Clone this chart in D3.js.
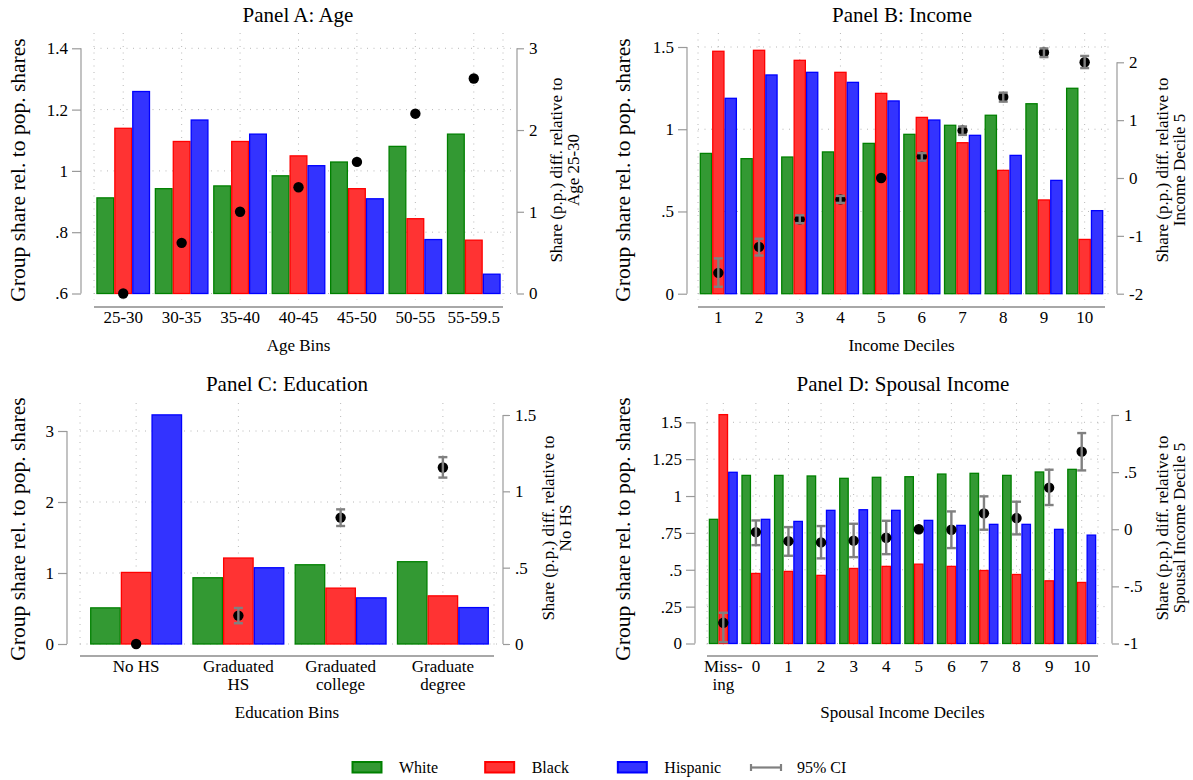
<!DOCTYPE html>
<html><head><meta charset="utf-8">
<script src="https://cdn.jsdelivr.net/npm/d3@7"></script>
<style>
body{margin:0;background:#fff;}
svg text{font-family:"Liberation Serif","Times New Roman",serif;fill:#000;}
</style></head><body>
<svg id="chart" width="1193" height="780"></svg>
<script>
// ---------------- DATA ----------------
const seriesNames = ["White", "Black", "Hispanic"];

// Panel A: Age
const ageCats = ["25-30", "30-35", "35-40", "40-45", "45-50", "50-55", "55-59.5"];
const ageWhite = [0.912, 0.942, 0.951, 0.984, 1.029, 1.080, 1.120];
const ageBlack = [1.139, 1.096, 1.096, 1.049, 0.942, 0.844, 0.774];
const ageHispanic = [1.259, 1.166, 1.120, 1.017, 0.909, 0.776, 0.663];
const ageDiff = [0, 0.62, 1.00, 1.30, 1.61, 2.20, 2.63];
const ageLo = [null, null, null, null, null, null, null];
const ageHi = [null, null, null, null, null, null, null];
const ageLeftTicks = [0.6, 0.8, 1, 1.2, 1.4];
const ageLeftLabels = [".6", ".8", "1", "1.2", "1.4"];
const ageRightTicks = [0, 1, 2, 3];
const ageRightLabels = ["0", "1", "2", "3"];

// Panel B: Income
const incCats = ["1", "2", "3", "4", "5", "6", "7", "8", "9", "10"];
const incWhite = [0.853, 0.821, 0.831, 0.862, 0.914, 0.969, 1.024, 1.085, 1.155, 1.249];
const incBlack = [1.474, 1.480, 1.419, 1.346, 1.218, 1.072, 0.918, 0.750, 0.570, 0.330];
const incHispanic = [1.188, 1.330, 1.346, 1.285, 1.172, 1.056, 0.963, 0.841, 0.689, 0.505];
const incDiff = [-1.64, -1.19, -0.715, -0.37, 0, 0.37, 0.82, 1.40, 2.17, 2.00];
const incLo = [-1.88, -1.34, -0.78, -0.43, null, 0.30, 0.745, 1.32, 2.09, 1.90];
const incHi = [-1.39, -1.05, -0.645, -0.31, null, 0.43, 0.89, 1.475, 2.24, 2.11];
const incLeftTicks = [0, 0.5, 1, 1.5];
const incLeftLabels = ["0", ".5", "1", "1.5"];
const incRightTicks = [-2, -1, 0, 1, 2];
const incRightLabels = ["-2", "-1", "0", "1", "2"];

// Panel C: Education
const eduCats = ["No HS", "Graduated HS", "Graduated college", "Graduate degree"];
const eduLabels = [["No HS"], ["Graduated", "HS"], ["Graduated", "college"], ["Graduate", "degree"]];
const eduWhite = [0.509, 0.933, 1.116, 1.159];
const eduBlack = [1.008, 1.211, 0.787, 0.678];
const eduHispanic = [3.227, 1.074, 0.650, 0.513];
const eduDiff = [0, 0.186, 0.828, 1.156];
const eduLo = [null, 0.136, 0.773, 1.090];
const eduHi = [null, 0.236, 0.882, 1.224];
const eduLeftTicks = [0, 1, 2, 3];
const eduLeftLabels = ["0", "1", "2", "3"];
const eduRightTicks = [0, 0.5, 1, 1.5];
const eduRightLabels = ["0", ".5", "1", "1.5"];

// Panel D: Spousal income
const spCats = ["Missing", "0", "1", "2", "3", "4", "5", "6", "7", "8", "9", "10"];
const spLabels = [["Miss-", "ing"], ["0"], ["1"], ["2"], ["3"], ["4"], ["5"], ["6"], ["7"], ["8"], ["9"], ["10"]];
const spWhite = [0.842, 1.140, 1.140, 1.136, 1.120, 1.127, 1.131, 1.149, 1.154, 1.140, 1.163, 1.181];
const spBlack = [1.552, 0.475, 0.489, 0.462, 0.509, 0.523, 0.538, 0.523, 0.495, 0.468, 0.425, 0.414];
const spHispanic = [1.161, 0.842, 0.828, 0.903, 0.907, 0.903, 0.835, 0.801, 0.808, 0.808, 0.774, 0.735];
const spDiff = [-0.819, -0.025, -0.104, -0.115, -0.100, -0.074, 0, -0.004, 0.139, 0.098, 0.364, 0.679];
const spLo = [-0.988, -0.139, -0.232, -0.255, -0.244, -0.218, null, -0.165, -0.004, -0.045, 0.212, 0.515];
const spHi = [-0.731, 0.077, 0.019, 0.028, 0.048, 0.074, null, 0.156, 0.288, 0.241, 0.521, 0.842];
const spLeftTicks = [0, 0.25, 0.5, 0.75, 1, 1.25, 1.5];
const spLeftLabels = ["0", ".25", ".5", ".75", "1", "1.25", "1.5"];
const spRightTicks = [-1, -0.5, 0, 0.5, 1];
const spRightLabels = ["-1", "-.5", "0", ".5", "1"];

const legendLabels = ["White", "Black", "Hispanic", "95% CI"];

// ---------------- STYLE ----------------
const fills = ["#339933", "#ff3333", "#3333ff"];
const strokes = ["#008000", "#ff0000", "#0000ff"];
const axisColor = "#9a9a9a";
const gridColor = "#b8b8b8";
const ciColor = "#808080";

const svg = d3.select("#chart");

function drawPanel(c) {
  const g = svg.append("g");
  const x = d3.scaleBand().domain(c.cats).range(c.band).paddingInner(c.pad).paddingOuter(c.pad / 2);
  const xs = d3.scaleBand().domain(seriesNames).range([0, x.bandwidth()]);
  const yL = d3.scaleLinear().domain(c.yLDomain).range(c.yLRange);
  const yR = d3.scaleLinear().domain(c.yRDomain).range(c.yRRange);
  const cx = k => x(k) + x.bandwidth() / 2;
  const grid = s => s.attr("stroke", gridColor).attr("stroke-width", 1).attr("stroke-dasharray", "1 5.5").attr("fill", "none");

  // vertical grid (plot edges + category centres)
  const vx = [c.plotX[0]].concat(c.cats.map(cx)).concat([c.plotX[1]]);
  g.append("g").selectAll("line").data(vx).join("line")
    .attr("x1", d => d).attr("x2", d => d)
    .attr("y1", c.plotY[0]).attr("y2", c.plotY[1]).call(grid);
  // horizontal grid at left ticks
  g.append("g").selectAll("line").data(c.yLTicks).join("line")
    .attr("x1", c.plotX[0]).attr("x2", c.axR - 3)
    .attr("y1", d => yL(d)).attr("y2", d => yL(d)).call(grid);

  // bars
  const base = yL(c.yLDomain[0]);
  c.series.forEach((vals, si) => {
    g.append("g").selectAll("rect").data(vals).join("rect")
      .attr("x", (d, i) => x(c.cats[i]) + xs(seriesNames[si]) + 0.6)
      .attr("y", d => yL(d))
      .attr("width", xs.bandwidth() - 1.2)
      .attr("height", d => base - yL(d))
      .attr("fill", fills[si]).attr("stroke", strokes[si]).attr("stroke-width", 1.3);
  });

  // dots
  g.append("g").selectAll("circle").data(c.diff).join("circle")
    .attr("cx", (d, i) => cx(c.cats[i])).attr("cy", d => yR(d)).attr("r", 5.2).attr("fill", "#000");
  // confidence intervals (drawn over the dots, as in the original)
  const ci = g.append("g").attr("stroke", ciColor).attr("stroke-width", 2.4).attr("fill", "none");
  c.diff.forEach((d, i) => {
    if (c.lo[i] == null) return;
    const xx = cx(c.cats[i]);
    ci.append("line").attr("x1", xx).attr("x2", xx).attr("y1", yR(c.lo[i])).attr("y2", yR(c.hi[i]));
    ci.append("line").attr("x1", xx - 4.5).attr("x2", xx + 4.5).attr("y1", yR(c.lo[i])).attr("y2", yR(c.lo[i]));
    ci.append("line").attr("x1", xx - 4.5).attr("x2", xx + 4.5).attr("y1", yR(c.hi[i])).attr("y2", yR(c.hi[i]));
  });

  // left axis
  const aL = g.append("g").attr("transform", `translate(${c.axL},0)`)
    .call(d3.axisLeft(yL).tickValues(c.yLTicks).tickFormat(d => c.yLLabels[c.yLTicks.indexOf(d)]).tickSize(9).tickPadding(4));
  aL.select(".domain").remove();
  aL.append("line").attr("x1", 0).attr("x2", 0)
    .attr("y1", yL(d3.min(c.yLTicks))).attr("y2", yL(d3.max(c.yLTicks)));
  aL.selectAll("line").attr("stroke", axisColor).attr("stroke-width", 1.2);
  aL.selectAll("text").attr("font-size", 17).attr("font-family", null).attr("fill", "#000");

  // right axis
  const aR = g.append("g").attr("transform", `translate(${c.axR},0)`)
    .call(d3.axisRight(yR).tickValues(c.yRTicks).tickFormat(d => c.yRLabels[c.yRTicks.indexOf(d)]).tickSize(7).tickPadding(5));
  aR.select(".domain").remove();
  aR.append("line").attr("x1", 0).attr("x2", 0)
    .attr("y1", yR(d3.min(c.yRTicks))).attr("y2", yR(d3.max(c.yRTicks)));
  aR.selectAll("line").attr("stroke", axisColor).attr("stroke-width", 1.2);
  aR.selectAll("text").attr("font-size", 17).attr("font-family", null).attr("fill", "#000");

  // x axis
  g.append("line").attr("x1", c.plotX[0]).attr("x2", c.plotX[1])
    .attr("y1", c.axisY).attr("y2", c.axisY).attr("stroke", "#a8a8a8").attr("stroke-width", 2);
  const aX = g.append("g").attr("transform", `translate(0,${c.axisY})`)
    .call(d3.axisBottom(x).tickSize(0).tickPadding(4));
  aX.select(".domain").remove();
  aX.selectAll(".tick text").each(function (d, i) {
    const t = d3.select(this);
    t.text(null).attr("dy", null).attr("y", 16).attr("font-size", 17).attr("font-family", null).attr("fill", "#000");
    c.labels[i].forEach((l, j) => t.append("tspan").attr("x", 0).attr("dy", j === 0 ? 0 : 17.5).text(l));
  });

  // titles
  g.append("text").attr("x", c.titleX).attr("y", c.titleY).attr("text-anchor", "middle")
    .attr("font-size", 21).text(c.title);
  g.append("text").attr("x", (c.plotX[0] + c.plotX[1]) / 2).attr("y", c.xTitleY).attr("text-anchor", "middle")
    .attr("font-size", 17).text(c.xTitle);
  g.append("text").attr("transform", `translate(${c.lTitleX},${c.lTitleY}) rotate(-90)`)
    .attr("text-anchor", "middle").attr("font-size", 21.5).text("Group share rel. to pop. shares");
  const rt = g.append("text").attr("transform", `translate(${c.rTitleX},${c.rTitleY}) rotate(-90)`)
    .attr("text-anchor", "middle").attr("font-size", 17);
  rt.append("tspan").attr("x", 0).attr("y", 0).text("Share (p.p.) diff. relative to");
  rt.append("tspan").attr("x", 0).attr("y", 16.5).text(c.rTitle2);
}

drawPanel({
  title: "Panel A: Age", titleX: 298, titleY: 22,
  cats: ageCats, labels: ageCats.map(d => [d]),
  series: [ageWhite, ageBlack, ageHispanic], diff: ageDiff, lo: ageLo, hi: ageHi,
  band: [94, 503], pad: 0.08, plotX: [94, 503], plotY: [33, 300],
  axL: 81, axR: 517, axisY: 307,
  yLDomain: [0.6, 1.4], yLRange: [293.5, 48.3], yLTicks: ageLeftTicks, yLLabels: ageLeftLabels,
  yRDomain: [0, 3], yRRange: [293.5, 48.3], yRTicks: ageRightTicks, yRLabels: ageRightLabels,
  xTitle: "Age Bins", xTitleY: 351,
  lTitleX: 25, lTitleY: 170, rTitleX: 562, rTitleY: 170, rTitle2: "Age 25-30"
});

drawPanel({
  title: "Panel B: Income", titleX: 902, titleY: 22,
  cats: incCats, labels: incCats.map(d => [d]),
  series: [incWhite, incBlack, incHispanic], diff: incDiff, lo: incLo, hi: incHi,
  band: [698, 1105], pad: 0.085, plotX: [698, 1105], plotY: [33, 300],
  axL: 687, axR: 1117, axisY: 307,
  yLDomain: [0, 1.5], yLRange: [293.7, 47], yLTicks: incLeftTicks, yLLabels: incLeftLabels,
  yRDomain: [-2, 2], yRRange: [293.7, 62.3], yRTicks: incRightTicks, yRLabels: incRightLabels,
  xTitle: "Income Deciles", xTitleY: 351,
  lTitleX: 630, lTitleY: 170, rTitleX: 1168, rTitleY: 170, rTitle2: "Income Decile 5"
});

drawPanel({
  title: "Panel C: Education", titleX: 287, titleY: 391,
  cats: eduCats, labels: eduLabels,
  series: [eduWhite, eduBlack, eduHispanic], diff: eduDiff, lo: eduLo, hi: eduHi,
  band: [85, 494], pad: 0.1, plotX: [80, 494], plotY: [403, 650],
  axL: 67, axR: 503, axisY: 656,
  yLDomain: [0, 3], yLRange: [644, 431], yLTicks: eduLeftTicks, yLLabels: eduLeftLabels,
  yRDomain: [0, 1.5], yRRange: [644, 415], yRTicks: eduRightTicks, yRLabels: eduRightLabels,
  xTitle: "Education Bins", xTitleY: 718,
  lTitleX: 25, lTitleY: 529, rTitleX: 554, rTitleY: 528, rTitle2: "No HS"
});

drawPanel({
  title: "Panel D: Spousal Income", titleX: 903, titleY: 391,
  cats: spCats, labels: spLabels,
  series: [spWhite, spBlack, spHispanic], diff: spDiff, lo: spLo, hi: spHi,
  band: [707, 1098], pad: 0.11, plotX: [707, 1098], plotY: [403, 650],
  axL: 695, axR: 1112, axisY: 656,
  yLDomain: [0, 1.5], yLRange: [643.5, 422.3], yLTicks: spLeftTicks, yLLabels: spLeftLabels,
  yRDomain: [-1, 1], yRRange: [643.5, 415], yRTicks: spRightTicks, yRLabels: spRightLabels,
  xTitle: "Spousal Income Deciles", xTitleY: 718,
  lTitleX: 630, lTitleY: 529, rTitleX: 1168, rTitleY: 528, rTitle2: "Spousal Income Decile 5"
});

// ---------------- LEGEND ----------------
const legX = d3.scalePoint().domain(legendLabels).range([352, 750]);
const leg = svg.append("g");
legendLabels.forEach((lab, i) => {
  const x0 = legX(lab);
  if (i < 3) {
    leg.append("rect").attr("x", x0 + 0.5).attr("y", 762).attr("width", 29).attr("height", 10.5)
      .attr("fill", fills[i]).attr("stroke", strokes[i]).attr("stroke-width", 2);
  } else {
    const lg = leg.append("g").attr("stroke", ciColor).attr("stroke-width", 2.2);
    lg.append("line").attr("x1", x0 + 1).attr("x2", x0 + 31).attr("y1", 767.5).attr("y2", 767.5);
    lg.append("line").attr("x1", x0 + 1).attr("x2", x0 + 1).attr("y1", 764).attr("y2", 771);
    lg.append("line").attr("x1", x0 + 31).attr("x2", x0 + 31).attr("y1", 764).attr("y2", 771);
  }
  leg.append("text").attr("x", x0 + 47).attr("y", 773).attr("font-size", 16).text(lab);
});
</script>
</body></html>
